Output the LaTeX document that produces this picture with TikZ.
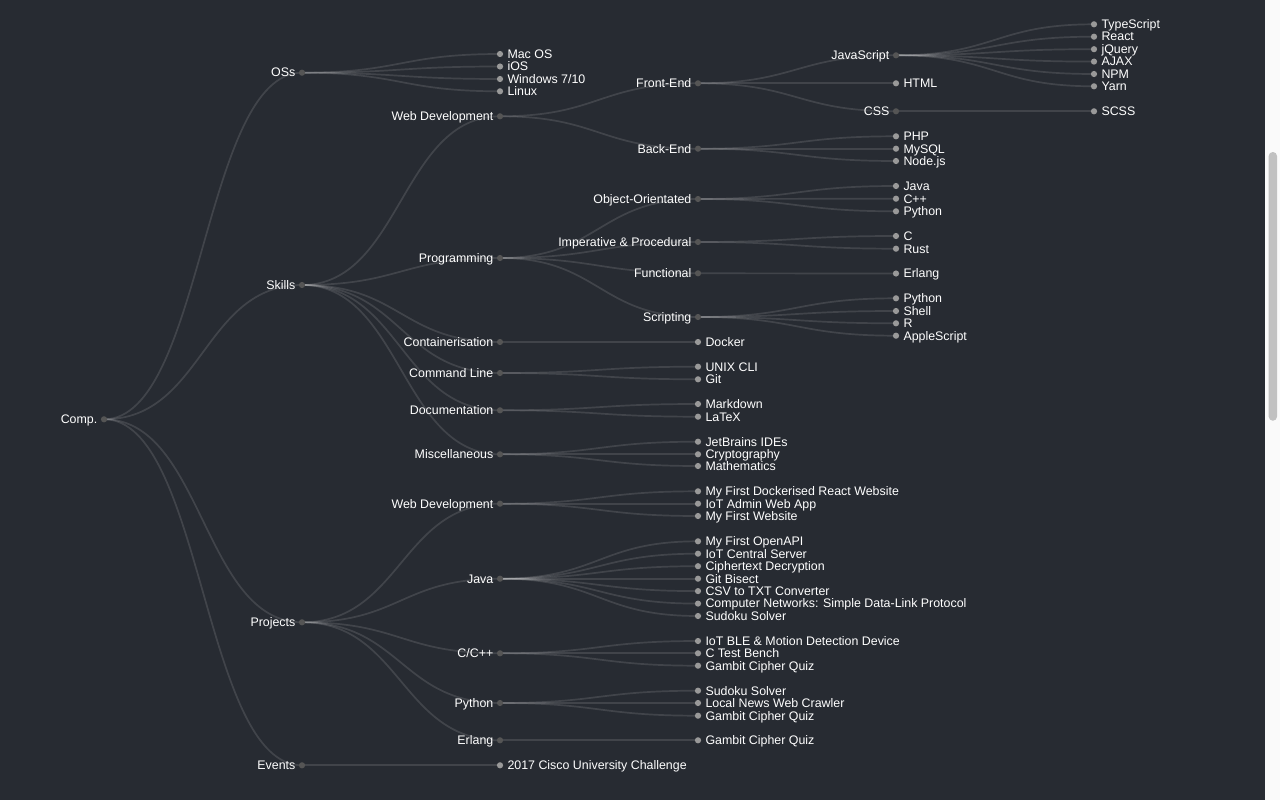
\documentclass[tikz,border=0pt]{standalone}
\usepackage{fontspec}
\setmainfont{Liberation Sans}
\usetikzlibrary{calc,backgrounds}

\definecolor{bgc}{HTML}{272B32}
\definecolor{dotdark}{HTML}{555555}
\definecolor{dotlight}{HTML}{999999}
\definecolor{sbtrack}{HTML}{FAFAFA}
\definecolor{sbthumb}{HTML}{C1C1C1}

\tikzset{
  lbl/.style={font=\fontsize{12.4}{14}\selectfont,text=white,inner sep=0pt,text height=8.6pt,text depth=0pt},
  dot/.style={circle,inner sep=0pt,minimum size=6.2pt},
  inode/.style={dot,fill=dotdark,label={[lbl,label distance=3.2pt]left:{#1}}},
  leaf/.style={dot,fill=dotlight,label={[lbl,label distance=4pt]right:{#1}}},
  link/.style={draw=white,draw opacity=0.12,line width=1.7pt}
}

\begin{document}
\begin{tikzpicture}[x=1pt,y=-1pt]
    \begin{scope}[on background layer]
      \fill[bgc] (0,0) rectangle (1265,800);
    \end{scope}
    % scrollbar
    \fill[sbtrack] (1265,0) rectangle (1280,800);
    \fill[sbthumb,rounded corners=4pt] (1268.7,152) rectangle (1277,420.7);

    \node[inode=Comp.] (comp) at (104,419.3) {};
    % depth 1
    \node[inode=OSs] (oss) at (302,72.7) {};
    \node[inode=Skills] (skills) at (302,285) {};
    \node[inode=Projects] (projects) at (302,622.3) {};
    \node[inode=Events] (events) at (302,765.3) {};
    % OSs
    \node[leaf={Mac OS}] (macos) at (500,54) {};
    \node[leaf=iOS] (ios) at (500,66.5) {};
    \node[leaf={Windows 7/10}] (windows) at (500,79) {};
    \node[leaf=Linux] (linux) at (500,91.3) {};
    % Skills
    \node[inode={Web Development}] (skweb) at (500,116.3) {};
    \node[inode=Programming] (prog) at (500,258) {};
    \node[inode=Containerisation] (contain) at (500,342) {};
    \node[inode={Command Line}] (cmdline) at (500,373) {};
    \node[inode=Documentation] (docs) at (500,410.3) {};
    \node[inode=Miscellaneous] (misc) at (500,454.3) {};
    \node[inode=Front-End] (frontend) at (698,83.3) {};
    \node[inode=Back-End] (backend) at (698,148.7) {};
    \node[inode=JavaScript] (javascript) at (896,55.3) {};
    \node[leaf=HTML] (html) at (896,83.3) {};
    \node[inode=CSS] (css) at (896,111.3) {};
    \node[leaf=TypeScript] (typescript) at (1094,24.3) {};
    \node[leaf=React] (react) at (1094,36.7) {};
    \node[leaf=jQuery] (jquery) at (1094,49.2) {};
    \node[leaf=AJAX] (ajax) at (1094,61.6) {};
    \node[leaf=NPM] (npm) at (1094,74) {};
    \node[leaf=Yarn] (yarn) at (1094,86.3) {};
    \node[leaf=SCSS] (scss) at (1094,111.3) {};
    \node[leaf=PHP] (php) at (896,136.3) {};
    \node[leaf=MySQL] (mysql) at (896,148.7) {};
    \node[leaf=Node.js] (nodejs) at (896,161) {};
    \node[inode=Object-Orientated] (oop) at (698,199) {};
    \node[inode={Imperative \& Procedural}] (imper) at (698,242) {};
    \node[inode=Functional] (func) at (698,273.3) {};
    \node[inode=Scripting] (script) at (698,317) {};
    \node[leaf=Java] (oojava) at (896,186) {};
    \node[leaf=C++] (oocpp) at (896,198.7) {};
    \node[leaf=Python] (oopython) at (896,211.3) {};
    \node[leaf=C] (cc) at (896,236) {};
    \node[leaf=Rust] (rust) at (896,248.7) {};
    \node[leaf=Erlang] (erlang) at (896,273.5) {};
    \node[leaf=Python] (spython) at (896,298.3) {};
    \node[leaf=Shell] (shell) at (896,311) {};
    \node[leaf=R] (rlang) at (896,323.3) {};
    \node[leaf=AppleScript] (apple) at (896,335.7) {};
    \node[leaf=Docker] (docker) at (698,342) {};
    \node[leaf={UNIX CLI}] (unixcli) at (698,366.7) {};
    \node[leaf=Git] (git) at (698,379.3) {};
    \node[leaf=Markdown] (markdown) at (698,404) {};
    \node[leaf=LaTeX] (latex) at (698,416.7) {};
    \node[leaf={JetBrains IDEs}] (jetbrains) at (698,441.7) {};
    \node[leaf=Cryptography] (crypto) at (698,454.3) {};
    \node[leaf=Mathematics] (maths) at (698,466) {};
    % Projects
    \node[inode={Web Development}] (pjweb) at (500,503.7) {};
    \node[inode=Java] (pjjava) at (500,578.7) {};
    \node[inode=C/C++] (pjcpp) at (500,653.3) {};
    \node[inode=Python] (pjpython) at (500,703) {};
    \node[inode=Erlang] (pjerlang) at (500,740.3) {};
    \node[leaf={My First Dockerised React Website}] (dockreact) at (698,491.3) {};
    \node[leaf={IoT Admin Web App}] (iotadmin) at (698,503.7) {};
    \node[leaf={My First Website}] (firstsite) at (698,516) {};
    \node[leaf={My First OpenAPI}] (openapi) at (698,541.3) {};
    \node[leaf={IoT Central Server}] (iotserver) at (698,553.7) {};
    \node[leaf={Ciphertext Decryption}] (cipher) at (698,566.2) {};
    \node[leaf={Git Bisect}] (bisect) at (698,578.7) {};
    \node[leaf={CSV to TXT Converter}] (csvtxt) at (698,591.1) {};
    \node[leaf={Computer Networks: Simple Data-Link Protocol}] (compnet) at (698,603.6) {};
    \node[leaf={Sudoku Solver}] (jsudoku) at (698,616) {};
    \node[leaf={IoT BLE \& Motion Detection Device}] (iotble) at (698,641) {};
    \node[leaf={C Test Bench}] (ctest) at (698,653.3) {};
    \node[leaf={Gambit Cipher Quiz}] (cgambit) at (698,665.7) {};
    \node[leaf={Sudoku Solver}] (psudoku) at (698,690.7) {};
    \node[leaf={Local News Web Crawler}] (crawler) at (698,703) {};
    \node[leaf={Gambit Cipher Quiz}] (pgambit) at (698,715.7) {};
    \node[leaf={Gambit Cipher Quiz}] (egambit) at (698,740.3) {};
    \node[leaf={2017 Cisco University Challenge}] (cisco) at (500,765.3) {};

    \begin{scope}[on background layer]
    \foreach \pa/\ch in {comp/oss, comp/skills, comp/projects, comp/events,
        oss/macos, oss/ios, oss/windows, oss/linux,
        skills/skweb, skills/prog, skills/contain, skills/cmdline, skills/docs, skills/misc,
        skweb/frontend, skweb/backend,
        frontend/javascript, frontend/html, frontend/css,
        javascript/typescript, javascript/react, javascript/jquery, javascript/ajax, javascript/npm, javascript/yarn,
        css/scss, backend/php, backend/mysql, backend/nodejs,
        prog/oop, prog/imper, prog/func, prog/script,
        oop/oojava, oop/oocpp, oop/oopython, imper/cc, imper/rust, func/erlang,
        script/spython, script/shell, script/rlang, script/apple,
        contain/docker, cmdline/unixcli, cmdline/git, docs/markdown, docs/latex,
        misc/jetbrains, misc/crypto, misc/maths,
        projects/pjweb, projects/pjjava, projects/pjcpp, projects/pjpython, projects/pjerlang,
        pjweb/dockreact, pjweb/iotadmin, pjweb/firstsite,
        pjjava/openapi, pjjava/iotserver, pjjava/cipher, pjjava/bisect, pjjava/csvtxt, pjjava/compnet, pjjava/jsudoku,
        pjcpp/iotble, pjcpp/ctest, pjcpp/cgambit,
        pjpython/psudoku, pjpython/crawler, pjpython/pgambit,
        pjerlang/egambit, events/cisco}
      \draw[link] let \p1=(\pa.center), \p2=(\ch.center) in
        (\p1) .. controls ({(\x1+\x2)/2},\y1) and ({(\x1+\x2)/2},\y2) .. (\p2);
    \end{scope}
\end{tikzpicture}
\end{document}
